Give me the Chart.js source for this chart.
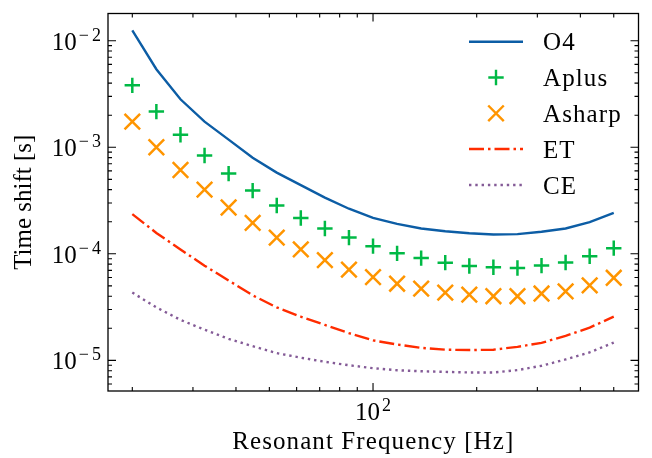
<!DOCTYPE html>
<html>
<head>
<meta charset="utf-8">
<script src="https://cdn.jsdelivr.net/npm/chart.js@4.4.0/dist/chart.umd.min.js"></script>
<style>
  body { margin: 0; background: #fff; }
  #wrap { width: 652px; height: 458px; }
</style>
</head>
<body>
<div id="wrap"><canvas id="chart" width="652" height="458"></canvas></div>
<script>
// resonant frequencies (Hz), same grid for every detector
const freq = [20, 23.49, 27.6, 32.42, 38.08, 44.72, 52.53, 61.7, 72.48, 85.14, 100,
  117.46, 137.97, 162.07, 190.37, 223.61, 262.65, 308.51, 362.39, 425.67, 500];

// time shift [s]
const o4 = [1.25e-2, 5.4e-3, 2.82e-3, 1.74e-3, 1.18e-3, 7.96e-4, 5.78e-4, 4.41e-4, 3.37e-4, 2.65e-4, 2.17e-4,
  1.91e-4, 1.73e-4, 1.63e-4, 1.56e-4, 1.52e-4, 1.53e-4, 1.61e-4, 1.73e-4, 1.98e-4, 2.42e-4];
const aplus = [3.81e-3, 2.16e-3, 1.31e-3, 8.37e-4, 5.66e-4, 3.92e-4, 2.84e-4, 2.17e-4, 1.73e-4, 1.42e-4, 1.18e-4,
  1.01e-4, 9.12e-5, 8.26e-5, 7.69e-5, 7.47e-5, 7.35e-5, 7.75e-5, 8.3e-5, 9.5e-5, 1.13e-4];
const asharp = [1.74e-3, 1.0e-3, 6.12e-4, 4.0e-4, 2.72e-4, 1.95e-4, 1.42e-4, 1.10e-4, 8.74e-5, 7.11e-5, 6.04e-5,
  5.24e-5, 4.71e-5, 4.32e-5, 4.14e-5, 4.0e-5, 4.0e-5, 4.24e-5, 4.45e-5, 5.06e-5, 5.96e-5];
const et = [2.36e-4, 1.57e-4, 1.10e-4, 7.74e-5, 5.62e-5, 4.08e-5, 3.14e-5, 2.57e-5, 2.15e-5, 1.80e-5, 1.54e-5,
  1.41e-5, 1.31e-5, 1.26e-5, 1.25e-5, 1.26e-5, 1.34e-5, 1.46e-5, 1.70e-5, 2.03e-5, 2.57e-5];
const ce = [4.33e-5, 3.14e-5, 2.40e-5, 1.94e-5, 1.59e-5, 1.36e-5, 1.17e-5, 1.06e-5, 9.7e-6, 9.0e-6, 8.45e-6,
  8.08e-6, 7.91e-6, 7.8e-6, 7.7e-6, 7.7e-6, 8.1e-6, 8.9e-6, 1.02e-5, 1.19e-5, 1.47e-5];

const labels = ["O4", "Aplus", "Asharp", "ET", "CE"];
const xMajorExp = [2];
const yMajorExp = [-5, -4, -3, -2];
const xTitle = "Resonant Frequency [Hz]";
const yTitle = "Time shift [s]";

const serif = '"Liberation Serif", "DejaVu Serif", serif';
const FS = 25;

function pts(ys) {
  return freq.map((f, i) => ({ x: f, y: ys[i] }));
}

// minor tick values 2..9 x 10^k inside [lo, hi]
function minors(lo, hi) {
  const out = [];
  for (let k = -7; k <= 4; k++) {
    for (let m = 2; m <= 9; m++) {
      const v = m * Math.pow(10, k);
      if (v > lo && v < hi) out.push(v);
    }
  }
  return out;
}

// "10" with a raised exponent
function powLabel(ctx, exp, xPos, baseY, align) {
  const supFont = '18px ' + serif;
  ctx.font = FS + 'px ' + serif;
  const wBase = ctx.measureText('10').width;
  ctx.font = supFont;
  const digits = String(Math.abs(exp));
  const wMinus = exp < 0 ? ctx.measureText('\u2212').width + 3 : 0;
  const wDig = ctx.measureText(digits).width;
  const total = wBase + 2 + wMinus + wDig;
  const left = align === 'right' ? xPos - total : xPos - total / 2;
  ctx.textAlign = 'left';
  ctx.textBaseline = 'alphabetic';
  ctx.font = FS + 'px ' + serif;
  ctx.fillText('10', left, baseY);
  ctx.font = supFont;
  const supY = baseY - 9;
  if (exp < 0) ctx.fillText('\u2212', left + wBase + 2, supY);
  ctx.fillText(digits, left + wBase + 2 + wMinus, supY);
}

const axesPlugin = {
  id: 'axesPlugin',
  afterDraw(chart) {
    const { ctx, chartArea: a, scales: { x, y } } = chart;
    ctx.save();
    ctx.strokeStyle = '#000';
    ctx.fillStyle = '#000';
    ctx.lineWidth = 1.3;
    ctx.setLineDash([]);
    ctx.strokeRect(a.left, a.top, a.right - a.left, a.bottom - a.top);

    // inward ticks on all four sides
    ctx.lineWidth = 1.1;
    ctx.beginPath();
    const xt = (v, len) => {
      const p = x.getPixelForValue(v);
      ctx.moveTo(p, a.bottom); ctx.lineTo(p, a.bottom - len);
      ctx.moveTo(p, a.top); ctx.lineTo(p, a.top + len);
    };
    const yt = (v, len) => {
      const p = y.getPixelForValue(v);
      ctx.moveTo(a.left, p); ctx.lineTo(a.left + len, p);
      ctx.moveTo(a.right, p); ctx.lineTo(a.right - len, p);
    };
    xMajorExp.forEach(e => xt(Math.pow(10, e), 8));
    minors(x.min, x.max).forEach(v => xt(v, 4));
    yMajorExp.forEach(e => yt(Math.pow(10, e), 8));
    minors(y.min, y.max).forEach(v => yt(v, 4));
    ctx.stroke();

    // tick labels
    yMajorExp.forEach(e => powLabel(ctx, e, 101, y.getPixelForValue(Math.pow(10, e)) + 9, 'right'));
    xMajorExp.forEach(e => powLabel(ctx, e, x.getPixelForValue(Math.pow(10, e)), 420, 'center'));

    // axis titles
    ctx.font = FS + 'px ' + serif;
    ctx.textAlign = 'center';
    ctx.textBaseline = 'alphabetic';
    ctx.letterSpacing = '1.1px';
    ctx.fillText(xTitle, (a.left + a.right) / 2, 449);
    ctx.letterSpacing = '0px';
    ctx.save();
    ctx.translate(31, (a.top + a.bottom) / 2);
    ctx.rotate(-Math.PI / 2);
    ctx.fillText(yTitle, 0, 0);
    ctx.restore();

    // legend, no frame
    const rows = [41.7, 77.5, 113.3, 149, 185];
    chart.data.datasets.forEach((ds, i) => {
      const ry = rows[i];
      ctx.strokeStyle = ds.borderColor;
      if (ds.showLine === false) {
        ctx.setLineDash([]);
        Chart.helpers.drawPoint(ctx, {
          pointStyle: ds.pointStyle,
          radius: ds.pointRadius,
          borderWidth: ds.pointBorderWidth,
          rotation: 0
        }, 496, ry);
      } else {
        ctx.lineWidth = ds.borderWidth;
        ctx.setLineDash(ds.borderDash || []);
        ctx.beginPath();
        ctx.moveTo(469, ry);
        ctx.lineTo(523, ry);
        ctx.stroke();
      }
      ctx.setLineDash([]);
      ctx.fillStyle = '#000';
      ctx.font = FS + 'px ' + serif;
      ctx.textAlign = 'left';
      ctx.letterSpacing = '1.1px';
      ctx.fillText(ds.label, 543, ry + 8.5);
      ctx.letterSpacing = '0px';
    });
    ctx.restore();
  }
};

const ctx = document.getElementById('chart');
new Chart(ctx, {
  type: 'line',
  data: {
    datasets: [
      {
        label: labels[0], data: pts(o4),
        borderColor: '#0C5DA5', backgroundColor: '#0C5DA5',
        borderWidth: 2.4, pointRadius: 0, tension: 0
      },
      {
        label: labels[1], data: pts(aplus), showLine: false,
        pointStyle: 'cross', pointRadius: 7.7, pointBorderWidth: 2.5,
        borderColor: '#00B945', backgroundColor: '#00B945'
      },
      {
        label: labels[2], data: pts(asharp), showLine: false,
        pointStyle: 'crossRot', pointRadius: 11, pointBorderWidth: 2.5,
        borderColor: '#FF9500', backgroundColor: '#FF9500'
      },
      {
        label: labels[3], data: pts(et),
        borderColor: '#FF2C00', backgroundColor: '#FF2C00',
        borderWidth: 2.4, borderDash: [15, 4, 2.5, 4], pointRadius: 0, tension: 0
      },
      {
        label: labels[4], data: pts(ce),
        borderColor: '#845B97', backgroundColor: '#845B97',
        borderWidth: 2.4, borderDash: [2.4, 3.9], pointRadius: 0, tension: 0
      }
    ]
  },
  options: {
    responsive: false,
    animation: false,
    layout: { padding: { left: 108, right: 5, top: 9, bottom: 67 } },
    scales: {
      x: { type: 'logarithmic', min: 17, max: 590, display: false },
      y: { type: 'logarithmic', min: 5.16e-6, max: 0.018, display: false }
    },
    plugins: {
      legend: { display: false },
      tooltip: { enabled: false }
    }
  },
  plugins: [axesPlugin]
});
</script>
</body>
</html>
